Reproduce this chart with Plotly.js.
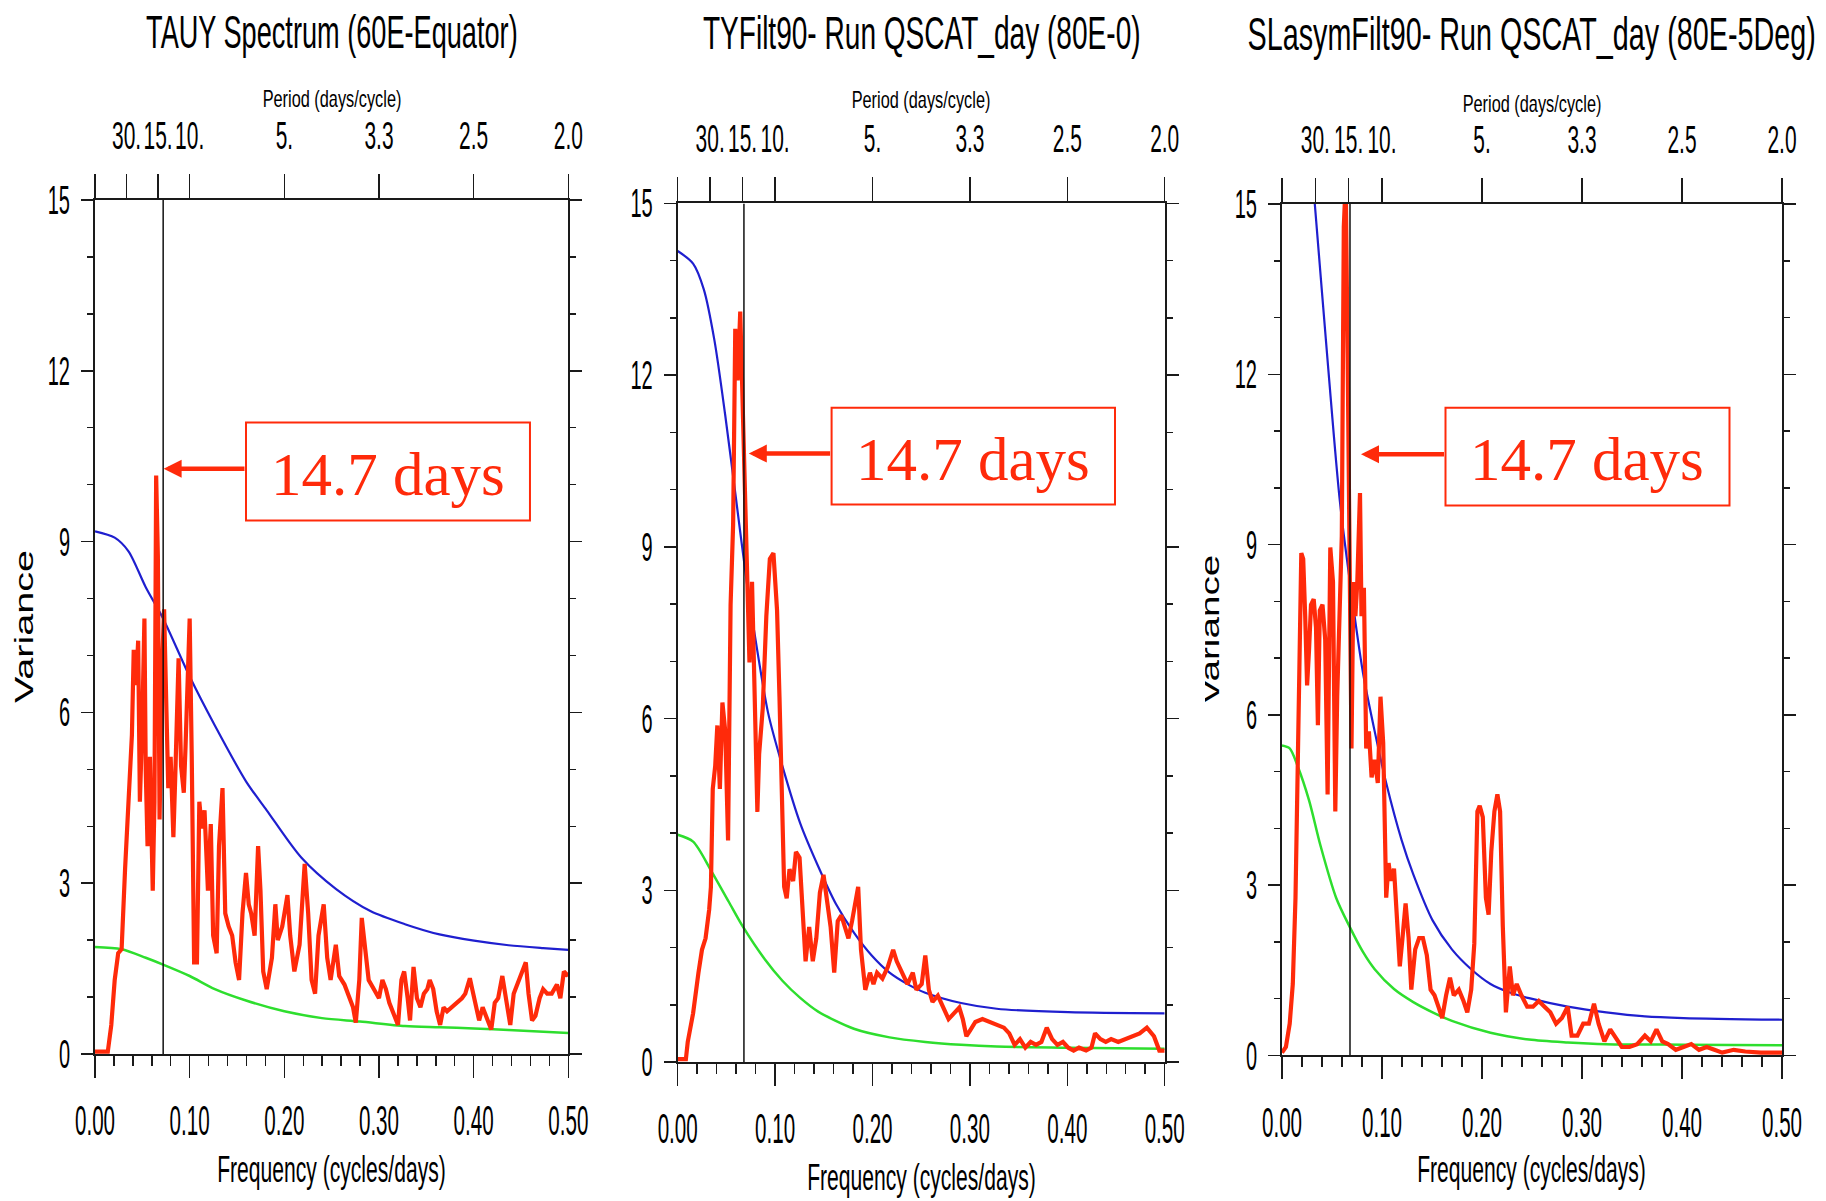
<!DOCTYPE html>
<html><head><meta charset="utf-8">
<script src="https://cdn.plot.ly/plotly-3.0.1.min.js"></script>
<style>html,body{margin:0;padding:0;background:#fff;}#chart{width:1826px;height:1201px;}</style>
</head><body><div id="chart"></div>
<script>
// ---------------- DATA ----------------
const titles = ['TAUY Spectrum (60E-Equator)', 'TYFilt90- Run QSCAT_day (80E-0)', 'SLasymFilt90- Run QSCAT_day (80E-5Deg)'];
const periodDays = [30, 15, 10, 5, 3.333, 2.5, 2.0];
const periodLabels = ['30.', '15.', '10.', '5.', '3.3', '2.5', '2.0'];
const markerFreq = [0.072, 0.068, 0.068];
const markerText = '14.7 days';
const topTitle = 'Period (days/cycle)';
const bottomTitle = 'Frequency (cycles/days)';
const yTitle = 'Variance';

// Panel 1 spectrum (red)
const f1 = [0,.0135,.0172,.0208,.0245,.0281,.0318,.0354,.039,.0409,
 .0434,.0456,.0474,.05,.0522,.0536,.0555,.058,.061,.0628,
 .0646,.0664,.0682,.0708,.073,.0755,.0774,.0799,.0828,.0847,
 .0883,.0909,.0938,.0956,.1,.1022,.1047,.1077,.1102,.1128,
 .1157,.1193,.1223,.1248,.1285,.131,.1347,.1376,.1412,.1449,
 .1485,.1522,.1558,.1595,.1624,.165,.1686,.1723,.1748,.1777,
 .1814,.1869,.1905,.1931,.1978,.2033,.2062,.2106,.2161,.2215,
 .2252,.2288,.2325,.2361,.2416,.2453,.2489,.2544,.258,.2635,
 .269,.2726,.2755,.2792,.2818,.2854,.2891,.2945,.3,.3036,
 .3073,.3109,.3164,.3201,.3237,.3266,.3303,.3328,.3365,.3401,
 .3438,.3474,.3511,.3536,.3573,.3609,.3646,.3682,.3719,.3766,
 .3821,.3876,.3912,.396,.3985,.4022,.4058,.4095,.4131,.4186,
 .4223,.4259,.4303,.4339,.4387,.4423,.446,.4515,.4551,.458,
 .4617,.4653,.4697,.4734,.4777,.4825,.488,.4916,.4953,.5];
const v1 = [.04,.04,.51,1.3,1.77,1.84,3.26,4.59,5.61,7.1,
 6.48,7.26,4.43,5.85,7.65,4.98,3.65,5.22,2.87,4.43,
 10.16,8.75,4.12,6.79,7.81,6.0,4.67,5.22,3.81,4.83,
 6.95,5.06,4.59,5.38,7.65,5.22,1.61,1.61,4.43,3.96,
 4.28,2.87,4.04,2.08,1.77,3.65,4.67,2.47,2.24,2.08,
 1.61,1.3,2.47,3.18,2.63,2.47,2.08,3.65,2.87,1.45,
 1.14,1.69,2.63,2.0,2.24,2.79,2.08,1.45,1.92,3.34,
 2.47,1.3,1.06,2.08,2.63,1.69,1.3,1.92,1.37,1.22,
 .98,.82,.55,1.3,2.39,1.84,1.3,1.14,.98,1.3,
 1.14,.9,.67,.51,1.3,1.45,.98,.59,1.53,.98,
 .82,1.06,1.14,1.3,1.14,.75,.51,.82,.75,.82,
 .9,.98,1.06,1.33,1.14,.82,.59,.82,.67,.43,
 .9,.98,1.37,.98,.51,1.06,1.22,1.45,1.61,1.06,
 .59,.67,.98,1.14,1.06,1.06,1.22,.98,1.45,1.37];
// Panel 1 upper curve (blue) and lower curve (green)
const bf1 = [0,.0208,.0354,.0536,.0719,.1,.1266,.1595,.1814,.2179,.2544,.2909,.3274,.3639,.4004,.4369,.4734,.5];
const bv1 = [9.18,9.07,8.83,8.2,7.65,6.63,5.77,4.79,4.28,3.45,2.9,2.51,2.28,2.1,1.99,1.91,1.86,1.83];
const gf1 = [0,.0281,.0536,.0719,.1,.1266,.1595,.2,.2398,.2799,.3274,.3639,.4004,.4369,.5];
const gv1 = [1.88,1.84,1.69,1.57,1.37,1.14,.94,.75,.63,.57,.49,.47,.45,.42,.37];

// Panel 2
const f2 = [0,.0084,.0103,.0158,.0213,.0249,.0286,.0323,.0341,.036,
 .0385,.0407,.0433,.0459,.0488,.0517,.0543,.0569,.0591,.0616,
 .0642,.0671,.0693,.0715,.0737,.0763,.0789,.0818,.0836,.0873,
 .091,.0946,.0983,.102,.1045,.1067,.1093,.1119,.1148,.1185,
 .1214,.1251,.1288,.1313,.135,.1387,.1423,.146,.1497,.1533,
 .157,.1607,.1643,.168,.1717,.1753,.179,.1827,.1853,.1882,
 .1926,.1974,.201,.2047,.2102,.2157,.2212,.2249,.2304,.2359,
 .2414,.245,.2505,.2542,.2579,.2616,.2671,.2726,.2781,.2836,
 .2891,.2927,.2964,.3001,.3056,.3129,.3202,.3276,.3349,.3404,
 .3459,.3514,.3569,.3624,.3679,.3734,.3789,.3844,.3899,.3955,
 .401,.4065,.412,.4193,.4248,.4285,.434,.4395,.445,.4523,
 .4597,.467,.4743,.4817,.489,.4945,.5];
const v2 = [.05,.05,.35,.85,1.56,1.96,2.16,2.66,3.06,4.77,
 5.17,5.88,4.77,6.28,5.78,3.87,7.99,9.39,12.81,11.91,
 13.11,11.4,10.2,8.49,6.98,8.39,6.78,4.37,5.38,6.18,
 7.79,8.79,8.89,7.89,6.38,5.07,3.06,2.86,3.37,3.16,
 3.67,3.57,2.56,1.76,2.36,1.76,2.16,2.96,3.27,2.86,
 2.36,1.56,2.46,2.56,2.36,2.16,2.46,2.86,3.06,1.96,
 1.26,1.56,1.36,1.56,1.46,1.66,1.96,1.76,1.56,1.36,
 1.56,1.26,1.36,1.86,1.26,1.05,1.16,.95,.75,.85,
 .95,.75,.45,.55,.7,.75,.7,.65,.6,.5,
 .3,.4,.25,.35,.3,.35,.6,.4,.3,.35,
 .25,.2,.25,.2,.25,.5,.4,.35,.4,.35,
 .4,.45,.5,.6,.45,.2,.2];
const bf2 = [0,.0158,.0268,.0378,.0488,.0598,.0708,.0818,.0928,.1075,.1258,.1442,.1625,.1809,.1992,.2175,.2359,.2542,.2909,.3276,.401,.5];
const bv2 = [14.17,13.95,13.5,12.6,11.3,9.85,8.4,7.18,6.1,5.17,4.17,3.42,2.76,2.26,1.86,1.56,1.36,1.21,1.03,.93,.87,.85];
const gf2 = [0,.0158,.0341,.0524,.0671,.0892,.1075,.1258,.1442,.1809,.2175,.2542,.2909,.3276,.401,.5];
const gv2 = [3.97,3.85,3.35,2.8,2.36,1.8,1.42,1.12,.88,.58,.43,.35,.3,.27,.25,.23];

// Panel 3
const f3 = [0,.0039,.0077,.0108,.0135,.0154,.0174,.0193,.0212,.0232,
 .0251,.027,.029,.0317,.034,.0359,.0378,.0405,.0432,.0456,
 .0483,.051,.0533,.0552,.0579,.0598,.0618,.0637,.0656,.0676,
 .0695,.0714,.0734,.0753,.078,.0795,.0819,.0842,.0869,.0896,
 .0927,.0958,.0985,.1012,.1042,.1066,.1089,.112,.1151,.1178,
 .1205,.1236,.1266,.1293,.1332,.1371,.1409,.1448,.1486,.1525,
 .1564,.1602,.1641,.168,.1718,.1768,.1815,.1853,.1892,.1923,
 .1954,.1977,.2008,.2039,.2066,.2093,.2124,.2154,.2181,.2208,
 .2239,.2278,.2309,.2347,.2394,.2452,.251,.2568,.2625,.2683,
 .2741,.2799,.2857,.2896,.2954,.3012,.3069,.312,.3166,.3224,
 .3282,.334,.3398,.3475,.3552,.3629,.3687,.3745,.3803,.3861,
 .3938,.4015,.4093,.417,.4247,.4324,.4402,.4517,.4633,.4788,
 .5];
const v3 = [.05,.15,.56,1.26,2.78,5.31,6.83,8.85,8.75,7.74,
 6.52,7.13,7.94,8.04,7.54,5.82,7.84,7.94,7.33,4.6,
 8.95,8.34,4.3,6.32,8.34,9.15,14.6,15.4,12.39,9.36,
 5.41,8.34,7.74,8.34,9.91,7.74,8.24,5.41,5.71,4.9,
 5.21,4.8,6.32,5.51,2.78,3.39,3.08,3.29,2.28,1.57,
 2.07,2.68,2.07,1.16,1.87,2.07,2.07,1.77,1.16,1.06,
 .86,.66,1.06,1.37,1.06,1.16,.96,.76,1.16,1.97,
 4.3,4.4,4.2,2.78,2.48,3.59,4.3,4.6,4.3,2.28,
 .76,1.57,1.06,1.26,1.06,.86,.86,.96,.86,.76,
 .56,.66,.86,.35,.35,.56,.56,.91,.56,.25,
 .46,.3,.15,.15,.2,.35,.25,.46,.25,.2,
 .1,.15,.2,.1,.15,.1,.05,.1,.07,.05,
 .05];
const bf3 = [.027,.0328,.0463,.0579,.0695,.0811,.0927,.1042,.1197,.1313,.1506,.1699,.1892,.2085,.2278,.2471,.2857,.3243,.3629,.4015,.5];
const bv3 = [16.2,15.0,12.09,9.76,8.14,6.73,5.71,4.8,3.79,3.19,2.38,1.87,1.52,1.26,1.11,1.01,.86,.76,.69,.66,.63];
const gf3 = [0,.0077,.0154,.027,.0386,.0541,.0676,.0811,.0927,.112,.1313,.1506,.1699,.2085,.2471,.2857,.3243,.4015,.5];
const gv3 = [5.46,5.41,5.11,4.5,3.69,2.78,2.27,1.82,1.52,1.17,.94,.76,.61,.40,.28,.23,.20,.19,.18];

// ---------------- STYLE / LAYOUT ----------------
const W = 1826, H = 1201;
const FONT = 'Liberation Sans, Arial, Helvetica, sans-serif';
const SERIF = 'Liberation Serif, Times New Roman, serif';
const INK = '#1a1a1a';
const RED = '#ff2a0a', BLUE = '#1f1fcf', GREEN = '#2ede2e';

const series = [
  {f:f1, v:v1, bf:bf1, bv:bv1, gf:gf1, gv:gv1},
  {f:f2, v:v2, bf:bf2, bv:bv2, gf:gf2, gv:gv2},
  {f:f3, v:v3, bf:bf3, bv:bv3, gf:gf3, gv:gv3}
];
const geom = [
  {xd:[0.05203,0.31123], yd:[0.12240,0.83347], titleX:332, titleY:32, titleK:0.59, perY:98, freqY:1169,
   box:[0.1595,0.4595,9.37,11.09], arrow:[0.0725,0.1595,10.28]},
  {xd:[0.37114,0.63784], yd:[0.11574,0.83056], titleX:922, titleY:33, titleK:0.61, perY:100, freqY:1177,
   box:[0.158,0.449,9.74,11.43], arrow:[0.073,0.158,10.63]},
  {xd:[0.70208,0.97590], yd:[0.12115,0.83014], titleX:1531, titleY:34, titleK:0.625, perY:103, freqY:1169,
   box:[0.1635,0.4475,9.69,11.41], arrow:[0.079,0.1635,10.59]}
];

const traces = [];
const layout = {
  width: W, height: H, margin:{l:0,r:0,t:0,b:0},
  paper_bgcolor:'#fff', plot_bgcolor:'#fff', showlegend:false,
  annotations: [], shapes: []
};
const squeeze = []; // horizontal compression per annotation

geom.forEach((g, i) => {
  const s = series[i];
  const xbName = i === 0 ? 'x' : 'x' + (2*i+1);
  const xtName = 'x' + (2*i+2);
  const yName = i === 0 ? 'y' : 'y' + (i+1);
  const xbKey = 'xaxis' + (i === 0 ? '' : (2*i+1));
  const xtKey = 'xaxis' + (2*i+2);
  const yKey = 'yaxis' + (i === 0 ? '' : (i+1));

  traces.push({x:s.gf, y:s.gv, xaxis:xbName, yaxis:yName, mode:'lines', line:{color:GREEN, width:2.5, shape:'spline', smoothing:0.8}, hoverinfo:'skip'});
  traces.push({x:s.bf, y:s.bv, xaxis:xbName, yaxis:yName, mode:'lines', line:{color:BLUE, width:2.2, shape:'spline', smoothing:0.8}, hoverinfo:'skip'});
  traces.push({x:s.f, y:s.v, xaxis:xbName, yaxis:yName, mode:'lines', line:{color:RED, width:4.2}, hoverinfo:'skip'});
  traces.push({x:[markerFreq[i], markerFreq[i]], y:[0, 15], xaxis:xbName, yaxis:yName, mode:'lines', line:{color:'#111', width:1.5}, hoverinfo:'skip'});
  traces.push({x:[], y:[], xaxis:xtName, yaxis:yName, mode:'lines', hoverinfo:'skip'});

  layout[xbKey] = {
    domain:g.xd, anchor:yName, range:[0,0.5], tickmode:'linear', tick0:0, dtick:0.1, tickformat:'.2f',
    ticks:'outside', ticklen:22, tickwidth:1.5, tickcolor:INK, tickangle:0,
    showline:true, linecolor:INK, linewidth:2, showgrid:false, zeroline:false,
    tickfont:{family:FONT, size:42, color:'#000'}, ticklabelstandoff:7,
    minor:{tick0:0, dtick:0.02, ticks:'outside', ticklen:10, tickwidth:1.5, tickcolor:INK, showgrid:false},
    fixedrange:true
  };
  layout[xtKey] = {
    overlaying:xbName, side:'top', anchor:yName, range:[0,0.5], tickmode:'array',
    tickvals:[0].concat(periodDays.map(p => 1/p)), ticktext:[''].concat(periodLabels),
    ticks:'outside', ticklen:24, tickwidth:1.5, tickcolor:INK, tickangle:0,
    showline:true, linecolor:INK, linewidth:2, showgrid:false, zeroline:false,
    tickfont:{family:FONT, size:38, color:'#000'}, ticklabelstandoff:10, fixedrange:true
  };
  layout[yKey] = {
    domain:g.yd, anchor:xbName, range:[0,15], tickmode:'linear', tick0:0, dtick:3,
    ticks:'outside', ticklen:12, tickwidth:1.5, tickcolor:INK, mirror:'ticks',
    showline:true, linecolor:INK, linewidth:2, showgrid:false, zeroline:false,
    tickfont:{family:FONT, size:40, color:'#000'}, ticklabelstandoff:3,
    minor:{tick0:0, dtick:1, ticks:'outside', ticklen:6, tickwidth:1.5, tickcolor:INK, showgrid:false},
    fixedrange:true
  };

  // titles
  layout.annotations.push({text:titles[i], xref:'paper', yref:'paper', x:g.titleX/W, y:1-g.titleY/H,
    xanchor:'center', yanchor:'middle', showarrow:false, font:{family:FONT, size:46, color:'#000'}});
  squeeze.push(g.titleK);
  layout.annotations.push({text:topTitle, xref:xbName+' domain', yref:'paper', x:0.5, y:1-g.perY/H,
    xanchor:'center', yanchor:'middle', showarrow:false, font:{family:FONT, size:24, color:'#000'}});
  squeeze.push(0.68);
  layout.annotations.push({text:bottomTitle, xref:xbName+' domain', yref:'paper', x:0.5, y:1-g.freqY/H,
    xanchor:'center', yanchor:'middle', showarrow:false, font:{family:FONT, size:37, color:'#000'}});
  squeeze.push(0.57);
  // 14.7 days label
  layout.shapes.push({type:'rect', xref:xbName, yref:yName, x0:g.box[0], x1:g.box[1], y0:g.box[2], y1:g.box[3],
    line:{color:RED, width:2}, fillcolor:'rgba(0,0,0,0)'});
  layout.annotations.push({text:markerText, xref:xbName, yref:yName, x:(g.box[0]+g.box[1])/2, y:(g.box[2]+g.box[3])/2,
    xanchor:'center', yanchor:'middle', yshift:-3, showarrow:false, font:{family:SERIF, size:61, color:RED}});
  squeeze.push(1);
  layout.annotations.push({text:'', xref:xbName, yref:yName, x:g.arrow[0], y:g.arrow[2],
    axref:xbName, ayref:yName, ax:g.arrow[1], ay:g.arrow[2], showarrow:true, arrowhead:2, arrowsize:0.8,
    arrowwidth:4.5, arrowcolor:RED, standoff:0});
  squeeze.push(1);
});
// y-axis titles: full one on panel 1, the clipped remnant beside panel 3
layout.annotations.push({text:yTitle, xref:'paper', yref:'paper', x:24/W, y:1-627/H, textangle:-90,
  xanchor:'center', yanchor:'middle', showarrow:false, font:{family:FONT, size:25, color:'#000'}});
squeeze.push({len:153});
const clippedIdx = layout.annotations.length;
layout.annotations.push({text:yTitle, xref:'paper', yref:'paper', x:1210/W, y:1-630/H, textangle:-90,
  xanchor:'center', yanchor:'middle', showarrow:false, font:{family:FONT, size:25, color:'#000'}});
squeeze.push({len:150});

function fit(el, k) {
  const w = el.getComputedTextLength();
  if (!w) return;
  const target = (typeof k === 'object') ? k.len : w * k;
  if (Math.abs(target - w) < 0.5) return;
  el.setAttribute('textLength', target.toFixed(1));
  el.setAttribute('lengthAdjust', 'spacingAndGlyphs');
}

Plotly.newPlot('chart', traces, layout, {displayModeBar:false, staticPlot:true}).then(gd => {
  gd.querySelectorAll('g.annotation').forEach(a => {
    const idx = +a.getAttribute('data-index');
    const t = a.querySelector('text.annotation-text');
    if (t && squeeze[idx] !== undefined && squeeze[idx] !== 1) fit(t, squeeze[idx]);
  });
  gd.querySelectorAll('.xtick text, .x3tick text, .x5tick text').forEach(t => fit(t, 0.49));
  gd.querySelectorAll('.x2tick text, .x4tick text, .x6tick text').forEach(t => fit(t, 0.55));
  gd.querySelectorAll('.ytick text, .y2tick text, .y3tick text').forEach(t => fit(t, 0.5));
  // the reference shows only the lower part of panel 3's y label
  const ns = 'http://www.w3.org/2000/svg';
  const a = gd.querySelector('g.annotation[data-index="' + clippedIdx + '"]');
  if (a) {
    const svg = a.ownerSVGElement;
    const defs = document.createElementNS(ns, 'defs');
    const cp = document.createElementNS(ns, 'clipPath');
    cp.setAttribute('id', 'ylabel-remnant');
    const r = document.createElementNS(ns, 'rect');
    r.setAttribute('x', 1205); r.setAttribute('y', 480); r.setAttribute('width', 30); r.setAttribute('height', 300);
    cp.appendChild(r); defs.appendChild(cp); svg.insertBefore(defs, svg.firstChild);
    a.setAttribute('clip-path', 'url(#ylabel-remnant)');
  }
});
</script>
</body></html>
